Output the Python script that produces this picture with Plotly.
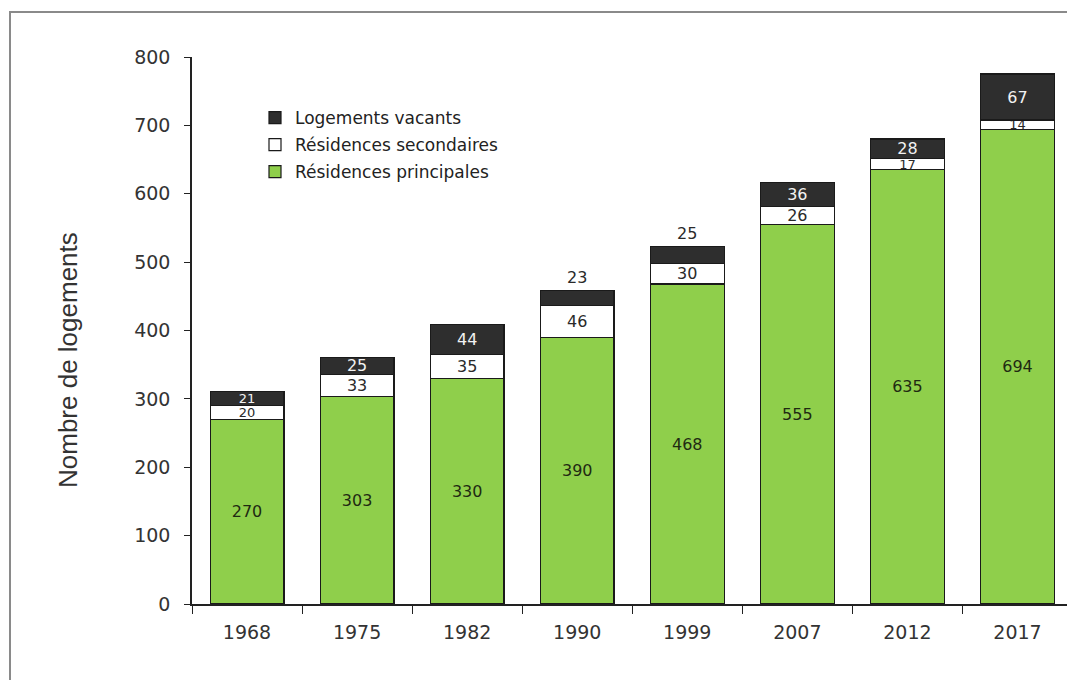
import plotly.graph_objects as go

# Housing stock by census year
years = ["1968", "1975", "1982", "1990", "1999", "2007", "2012", "2017"]
principales = [270, 303, 330, 390, 468, 555, 635, 694]
secondaires = [20, 33, 35, 46, 30, 26, 17, 14]
vacants = [21, 25, 44, 23, 25, 36, 28, 67]

GREEN = "#8fcf4b"
DARK = "#2e2e2e"
FONT = "DejaVu Sans, Verdana, sans-serif"
EDGE = dict(color="#1a1a1a", width=1.2)

# the 1990 and 1999 vacant counts are printed above their stacks
vac_pos = ["outside" if y in ("1990", "1999") else "inside" for y in years]

def label_sizes(values, pos=None):
    # thin segments get slightly smaller labels
    return [13 if v < 22 and (pos is None or pos[i] == "inside") else 16
            for i, v in enumerate(values)]

fig = go.Figure()
fig.add_bar(
    x=years, y=principales, name="Résidences principales", legend="legend3",
    marker=dict(color=GREEN, line=EDGE),
    text=[str(v) for v in principales], textposition="inside",
    insidetextanchor="middle", constraintext="none",
    textfont=dict(family=FONT, size=16, color="#1f2a12"),
)
fig.add_bar(
    x=years, y=secondaires, name="Résidences secondaires", legend="legend2",
    marker=dict(color="#ffffff", line=EDGE),
    text=[str(v) for v in secondaires], textposition="inside",
    insidetextanchor="middle", constraintext="none",
    textfont=dict(family=FONT, size=label_sizes(secondaires), color="#2a2a2a"),
)
fig.add_bar(
    x=years, y=vacants, name="Logements vacants", legend="legend",
    marker=dict(color=DARK, line=EDGE),
    text=[str(v) for v in vacants], textposition=vac_pos,
    insidetextanchor="middle", constraintext="none",
    insidetextfont=dict(family=FONT, size=label_sizes(vacants, vac_pos), color="#f2f2f2"),
    outsidetextfont=dict(family=FONT, size=16, color="#2a2a2a"),
    cliponaxis=False,
)

def legend_box(ypix):
    # one legend per entry so the rows can be spaced freely
    return dict(
        x=0.072, y=1 - (ypix - 57) / 547, xanchor="left", yanchor="middle",
        font=dict(family=FONT, size=17, color="#222"),
        itemwidth=30, bgcolor="rgba(0,0,0,0)",
    )

fig.update_layout(
    width=1067, height=680,
    barmode="stack", bargap=0.33,
    paper_bgcolor="white", plot_bgcolor="white",
    margin=dict(l=192, r=0, t=57, b=76),
    showlegend=True,
    legend=legend_box(118),
    legend2=legend_box(145),
    legend3=legend_box(172),
    xaxis=dict(
        type="category", range=[-0.5, 7.45],
        showline=True, linecolor="#222", linewidth=1.5,
        ticks="outside", tickson="boundaries", ticklen=8, tickcolor="#222",
        ticklabelstandoff=10,
        tickfont=dict(family=FONT, size=19, color="#333"),
        showgrid=False,
    ),
    yaxis=dict(
        range=[0, 800], tickvals=list(range(0, 801, 100)),
        showline=True, linecolor="#222", linewidth=1.5,
        ticks="outside", ticklen=6, tickcolor="#222",
        ticklabelstandoff=10,
        tickfont=dict(family=FONT, size=19, color="#333"),
        showgrid=False, zeroline=False,
    ),
    annotations=[
        dict(text="Nombre de logements", textangle=-90,
             xref="paper", yref="paper", x=(68 - 192) / 875, y=1 - (360 - 57) / 547,
             xanchor="center", yanchor="middle", showarrow=False,
             font=dict(family="Liberation Sans, Arial, sans-serif", size=26, color="#333")),
    ],
    shapes=[
        dict(type="rect", xref="paper", yref="paper",
             x0=(10 - 192) / 875, x1=1.2, y0=-0.3, y1=1 + 45 / 547,
             line=dict(color="#8a8a8a", width=2), layer="below"),
    ],
)

fig.write_html("out.html")
